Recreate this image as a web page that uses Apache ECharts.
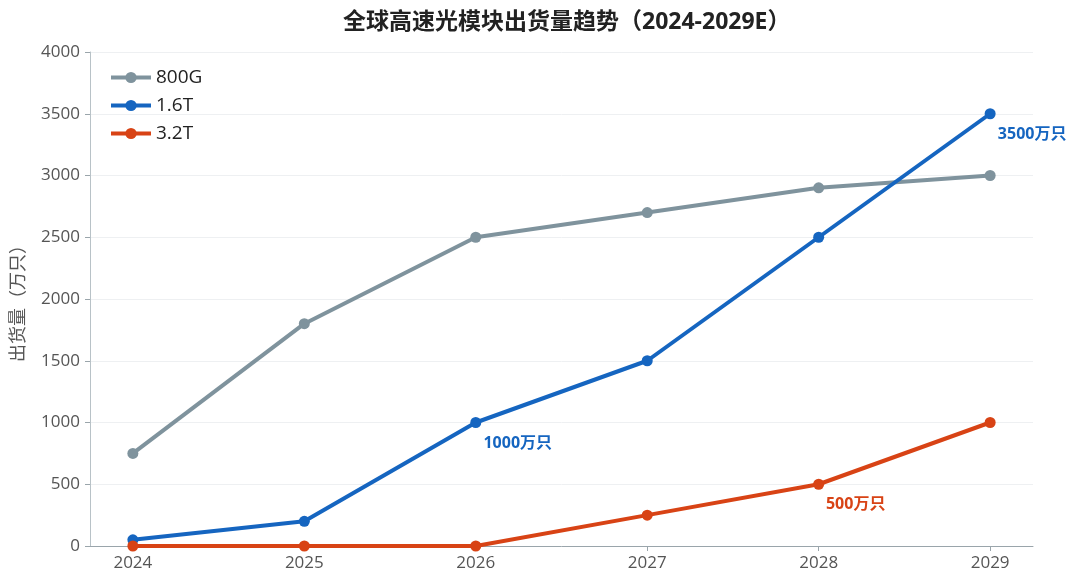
<!DOCTYPE html>
<html>
<head>
<meta charset="utf-8">
<script src="https://cdn.jsdelivr.net/npm/echarts@6/dist/echarts.min.js"></script>
<style>
  html, body { margin: 0; padding: 0; background: #fff; }
  #main { width: 1080px; height: 588px; }
</style>
</head>
<body>
<div id="main"></div>
<script>
// 年份
const years = [2024, 2025, 2026, 2027, 2028, 2029];
// 各速率出货量（万只）
const s800G = [750, 1800, 2500, 2700, 2900, 3000];
const s16T = [50, 200, 1000, 1500, 2500, 3500];
const s32T = [0, 0, 0, 250, 500, 1000];
// 需要标注的点（下标）
const label16T = [2, 5];
const label32T = [4];

const font = '"Open Sans", "Noto Sans CJK SC", sans-serif';

function pairs(vals) {
    return years.map((y, i) => [y, vals[i]]);
}

function withLabels(vals, idx, color, dx) {
    return pairs(vals).map((p, i) => {
        if (idx.indexOf(i) < 0) return p;
        return {
            value: p,
            label: {
                show: true,
                position: 'bottom',
                offset: [dx, 2],
                formatter: vals[i] + '万只',
                color: color,
                fontWeight: 'bold',
                fontSize: 16,
                fontFamily: font
            }
        };
    });
}

let chart = echarts.init(document.getElementById('main'));
let option = {
    backgroundColor: '#fff',
    animation: false,
    title: {
        text: '全球高速光模块出货量趋势（2024-2029E）',
        left: 338,
        top: 6,
        textStyle: { fontSize: 23, fontWeight: 'bold', color: '#222', fontFamily: font }
    },
    legend: {
        orient: 'vertical',
        left: 104,
        top: 63,
        itemWidth: 40,
        itemHeight: 14,
        itemGap: 9,
        itemStyle: { borderWidth: 0 },
        lineStyle: { width: 4 },
        textStyle: { fontSize: 19, color: '#222', fontFamily: font }
    },
    grid: { left: 90, right: 47, top: 52, bottom: 42 },
    xAxis: {
        type: 'value',
        min: 2023.75,
        max: 2029.25,
        interval: 0.25,
        axisLine: { lineStyle: { color: '#9aa5ab', width: 1 } },
        axisTick: { show: true, customValues: years, length: 5, lineStyle: { color: '#9aa5ab' } },
        axisLabel: {
            customValues: years,
            formatter: v => String(v),
            color: '#555',
            fontSize: 17,
            margin: 9,
            fontFamily: font
        },
        splitLine: { show: false }
    },
    yAxis: {
        type: 'value',
        min: 0,
        max: 4000,
        interval: 500,
        name: '出货量（万只）',
        nameLocation: 'middle',
        nameGap: 62,
        nameTextStyle: { fontSize: 18, color: '#555', fontFamily: font },
        axisLine: { show: true, lineStyle: { color: '#b8c2c7', width: 1 } },
        axisTick: { show: true, length: 5, lineStyle: { color: '#9aa5ab' } },
        axisLabel: { color: '#555', fontSize: 17, margin: 10, fontFamily: font, formatter: v => String(v) },
        splitLine: { lineStyle: { color: '#eef0f2', width: 1 } }
    },
    series: [
        {
            name: '800G',
            type: 'line',
            data: pairs(s800G),
            symbol: 'circle',
            symbolSize: 11,
            lineStyle: { width: 4, color: '#7f939d' },
            itemStyle: { color: '#7f939d' }
        },
        {
            name: '1.6T',
            type: 'line',
            data: withLabels(s16T, label16T, '#1565c0', 42),
            symbol: 'circle',
            symbolSize: 11,
            lineStyle: { width: 4, color: '#1565c0' },
            itemStyle: { color: '#1565c0' }
        },
        {
            name: '3.2T',
            type: 'line',
            data: withLabels(s32T, label32T, '#d84315', 37),
            symbol: 'circle',
            symbolSize: 11,
            lineStyle: { width: 4, color: '#d84315' },
            itemStyle: { color: '#d84315' }
        }
    ]
};
chart.setOption(option);
window.addEventListener('resize', () => {
    chart.resize();
});
</script>
</body>
</html>
